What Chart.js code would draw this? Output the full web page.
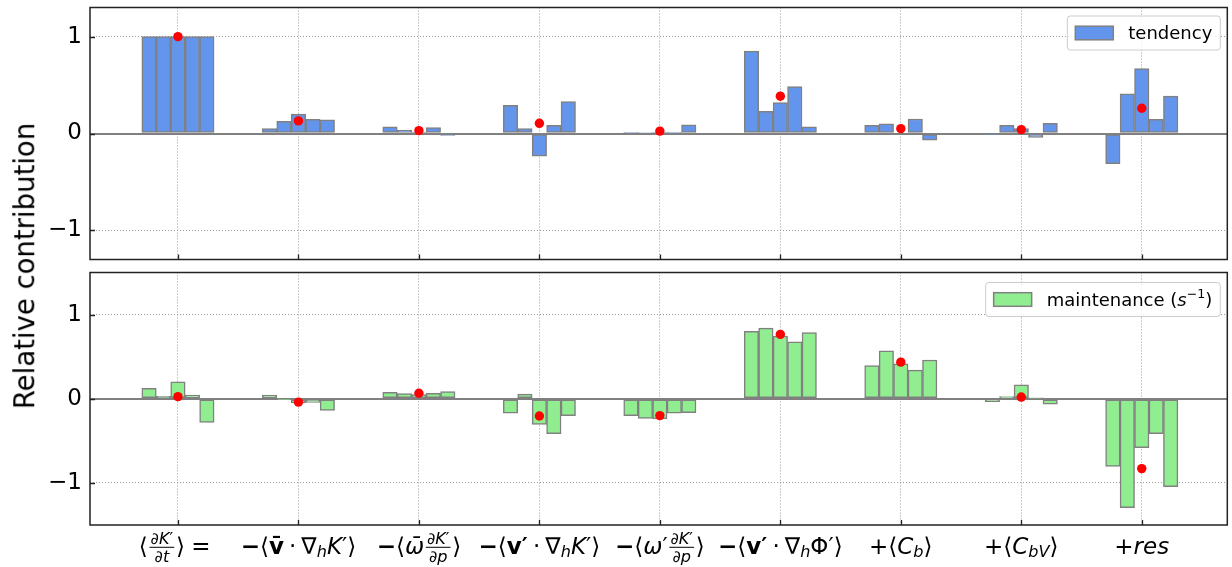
<!DOCTYPE html>
<html><head><meta charset="utf-8">
<script src="https://cdn.jsdelivr.net/npm/chart.js@4"></script>
<style>
html,body{margin:0;padding:0;background:#fff;}
#wrap{position:relative;width:1232px;height:567px;overflow:hidden;font-family:"DejaVu Sans";}
canvas{position:absolute;left:0;}
#cA{top:0}
#cB{top:266px}
#ylab{position:absolute;left:25px;top:266px;transform:translate(-50%,-50%) rotate(-90deg);white-space:nowrap;font-size:27.5px;font-family:"DejaVu Sans";color:#000;line-height:1;}
</style></head>
<body><div id="wrap"><canvas id="cA" width="1232" height="266"></canvas><canvas id="cB" width="1232" height="301"></canvas><div id="ylab">Relative contribution</div></div>
<script>
// ---------- data ----------
const categories = [
  '⟨\\frac{∂K′}{∂t}⟩ =',
  '−⟨\\bf{v\u0304}·∇_hK′⟩',
  '−⟨ω\u0304\\frac{∂K′}{∂p}⟩',
  '−⟨\\bf{v′}·∇_hK′⟩',
  '−⟨ω′\\frac{∂K′}{∂p}⟩',
  '−⟨\\bf{v′}·∇_hΦ′⟩',
  '+⟨C_b⟩',
  '+⟨C_{bV}⟩',
  '+res'
];
const yTicks = [-1, 0, 1];
const tendency = [
  [1.0, 1.0, 1.0, 1.0, 1.0],
  [0.05, 0.125, 0.2, 0.145, 0.14],
  [0.07, 0.035, 0.015, 0.06, -0.02],
  [0.29, 0.05, -0.235, 0.085, 0.33],
  [0.005, 0.01, 0.005, 0.015, 0.09],
  [0.85, 0.23, 0.32, 0.485, 0.07],
  [0.085, 0.1, 0.0, 0.15, -0.07],
  [-0.005, 0.085, 0.05, -0.04, 0.105],
  [-0.31, 0.41, 0.67, 0.145, 0.385]
];
const tendencyMean = [1.0, 0.13, 0.03, 0.105, 0.025, 0.385, 0.05, 0.04, 0.26];
const maintenance = [
  [0.125, 0.03, 0.2, 0.045, -0.28],
  [0.045, -0.005, -0.05, -0.045, -0.14],
  [0.075, 0.06, 0.05, 0.065, 0.085],
  [-0.17, 0.055, -0.305, -0.415, -0.2],
  [-0.2, -0.235, -0.24, -0.17, -0.165],
  [0.8, 0.84, 0.745, 0.675, 0.785],
  [0.395, 0.57, 0.415, 0.34, 0.46],
  [-0.035, 0.025, 0.165, 0.005, -0.065],
  [-0.805, -1.295, -0.58, -0.415, -1.045]
];
const maintenanceMean = [0.025, -0.04, 0.065, -0.205, -0.2, 0.765, 0.435, 0.02, -0.83];
const legendTop = 'tendency';
const legendBottom = ['maintenance (', 's^{−1}', ')'];

// ---------- mini math text renderer ----------
const FONT = '"DejaVu Sans"';
function tokenize(s) {
  const out = [];
  for (const ch of Array.from(s)) {
    if (/[\u0300-\u036f]/.test(ch) && out.length) out[out.length - 1] += ch;
    else out.push(ch);
  }
  return out;
}
function glyphBox(ctx, ch, size, bold, first) {
  const italic = !bold && /^[A-Za-z\u03b1-\u03c9]/.test(ch);
  const heavyMinus = ch === '−' && first && size > 20;
  const style = (bold || heavyMinus) ? 'bold' : (italic ? 'italic' : 'normal');
  const font = `${style} ${size}px ${FONT}`;
  ctx.font = font;
  const tw = ctx.measureText(ch).width;
  let pad = 0;
  if (!first && '·+−'.includes(ch)) pad = 0.22 * size;
  if (!first && ch === '=') pad = 0.28 * size;
  return { w: tw + 2 * pad, draw(c, x, b) { c.font = font; c.textAlign = 'left'; c.textBaseline = 'alphabetic'; c.fillText(ch, x + pad, b); } };
}
function fracBox(num, den, size) {
  const pad = 0.12 * size, inner = Math.max(num.w, den.w), w = inner + 2 * pad;
  return { w, draw(c, x, b) {
    const bar = b - 0.27 * size;
    c.fillRect(x + pad * 0.6, bar - 0.5, inner + pad * 0.8, 1);
    num.draw(c, x + (w - num.w) / 2, bar - 0.15 * size);
    den.draw(c, x + (w - den.w) / 2, bar + 0.65 * size);
  } };
}
function hbox(ctx, toks, size, bold) {
  const items = [];
  let i = 0;
  const readArg = () => {
    if (toks[i] === '{') {
      let depth = 1, j = i + 1;
      for (; j < toks.length; j++) { if (toks[j] === '{') depth++; else if (toks[j] === '}' && --depth === 0) break; }
      const sub = toks.slice(i + 1, j); i = j + 1; return sub;
    }
    return [toks[i++]];
  };
  while (i < toks.length) {
    const t = toks[i];
    if (t === '\\') {
      i++; let name = '';
      while (i < toks.length && /^[a-z]$/.test(toks[i])) name += toks[i++];
      if (name === 'frac') { const a = readArg(), b = readArg(); items.push(fracBox(hbox(ctx, a, size * 0.7, bold), hbox(ctx, b, size * 0.7, bold), size)); }
      else if (name === 'bf') { items.push(hbox(ctx, readArg(), size, true)); }
    } else if (t === '_' || t === '^') {
      i++; const sub = hbox(ctx, readArg(), size * 0.7, bold);
      const dy = t === '_' ? 0.16 * size : -0.42 * size;
      items.push({ w: sub.w, draw: (c, x, b) => sub.draw(c, x, b + dy) });
    } else if (t === ' ') { i++; }
    else { i++; items.push(glyphBox(ctx, t, size, bold, items.length === 0)); }
  }
  const w = items.reduce((s, it) => s + it.w, 0);
  return { w, draw(c, x, b) { let cx = x; for (const it of items) { it.draw(c, cx, b); cx += it.w; } } };
}
function buildMath(ctx, src, size) { return hbox(ctx, tokenize(src), size, false); }
function textBox(ctx, str, size) {
  const font = `normal ${size}px ${FONT}`; ctx.font = font;
  const w = ctx.measureText(str).width;
  return { w, draw(c, x, b) { c.font = font; c.textAlign = 'left'; c.textBaseline = 'alphabetic'; c.fillText(str, x, b); } };
}

// ---------- plugins ----------
const decor = {
  id: 'decor',
  afterDraw(chart, args, opts) {
    const ctx = chart.ctx, a = chart.chartArea, xs = chart.scales.x, ys = chart.scales.y;
    ctx.save();
    // inward ticks
    ctx.strokeStyle = '#222'; ctx.lineWidth = 1.3;
    ctx.beginPath();
    xs.ticks.forEach(t => { const p = Math.round(xs.getPixelForValue(t.value)) + 0.5; ctx.moveTo(p, a.bottom); ctx.lineTo(p, a.bottom - 5); });
    ys.ticks.forEach(t => { const p = Math.round(ys.getPixelForValue(t.value)) + 0.5; ctx.moveTo(a.left, p); ctx.lineTo(a.left + 5, p); });
    ctx.stroke();
    // frame
    ctx.strokeStyle = '#222'; ctx.lineWidth = 1.5;
    ctx.strokeRect(a.left, a.top, a.right - a.left, a.bottom - a.top);
    // legend
    const L = opts.legend;
    const size = 18;
    let label;
    if (Array.isArray(L.text)) {
      const parts = [textBox(ctx, L.text[0], size), buildMath(ctx, L.text[1], size), textBox(ctx, L.text[2], size)];
      label = { w: parts.reduce((s, p) => s + p.w, 0), draw(c, x, b) { let cx = x; parts.forEach(p => { p.draw(c, cx, b); cx += p.w; }); } };
    } else label = textBox(ctx, L.text, size);
    const fw = 8 + 38 + 15 + label.w + 8, fh = 34;
    const fx = a.right - 7 - fw, fy = a.top + L.dy;
    ctx.beginPath();
    ctx.roundRect(fx, fy, fw, fh, 3);
    ctx.fillStyle = 'rgba(255,255,255,0.85)'; ctx.fill();
    ctx.strokeStyle = '#cccccc'; ctx.lineWidth = 1; ctx.stroke();
    const cy = fy + fh / 2;
    ctx.fillStyle = L.color; ctx.fillRect(fx + 8, cy - 6.8, 38, 13.6);
    ctx.strokeStyle = '#808080'; ctx.lineWidth = 1.5; ctx.strokeRect(fx + 8, cy - 6.8, 38, 13.6);
    ctx.fillStyle = '#000';
    label.draw(ctx, fx + 8 + 38 + 15, cy + 6.4);
    // category labels
    if (opts.labels) {
      ctx.fillStyle = '#000';
      categories.forEach((lab, i) => {
        const box = buildMath(ctx, lab, 23);
        const cx = xs.getPixelForValue(i);
        box.draw(ctx, cx - box.w / 2, a.bottom + 28.5);
      });
    }
    ctx.restore();
  }
};

function barPoints(groups) {
  const pts = [];
  groups.forEach((g, i) => g.forEach((v, j) => pts.push({ x: i + (j - 2) * 0.12, y: v })));
  return pts;
}

function makeChart(id, groups, means, fill, yLim, padTop, xH, legend, labels) {
  return new Chart(document.getElementById(id), {
    type: 'bar',
    data: { datasets: [
      { type: 'scatter', data: means.map((v, i) => ({ x: i, y: v })), backgroundColor: '#ff0000', borderColor: '#ff0000', borderWidth: 0, pointRadius: 4.7, order: 0 },
      { type: 'bar', data: barPoints(groups), backgroundColor: fill, borderColor: '#808080', borderWidth: 1.5, borderSkipped: false, barPercentage: 1, categoryPercentage: 1, order: 1 }
    ] },
    options: {
      responsive: false, animation: false, events: [],
      layout: { padding: { left: 0, right: 2, top: padTop, bottom: 0 } },
      plugins: { legend: { display: false }, tooltip: { enabled: false }, decor: { legend, labels } },
      scales: {
        x: {
          type: 'linear', min: -0.73, max: 8.71, offset: false,
          afterBuildTicks: s => { s.ticks = categories.map((_, i) => ({ value: i })); },
          ticks: { display: false },
          grid: { color: '#9a9a9a', lineWidth: 1, drawTicks: false, offset: false },
          border: { display: false, dash: [1, 2] },
          afterFit: s => { s.height = xH; s.paddingLeft = 0; s.paddingRight = 0; s.paddingTop = 0; s.paddingBottom = 0; }
        },
        y: {
          min: -yLim, max: yLim,
          afterBuildTicks: s => { s.ticks = yTicks.map(v => ({ value: v })); },
          ticks: { font: { family: 'DejaVu Sans', size: 23 }, color: '#000', padding: 8,
                   callback: v => v < 0 ? '\u2212' + Math.abs(v) : String(v) },
          grid: { drawTicks: false,
                  color: c => (c.tick && c.tick.value === 0) ? '#808080' : '#9a9a9a',
                  lineWidth: c => (c.tick && c.tick.value === 0) ? 2 : 1 },
          border: { display: false, dash: c => (c.tick && c.tick.value === 0) ? [] : [1, 2] },
          afterFit: s => { s.width = 90; s.paddingTop = 0; s.paddingBottom = 0; s.paddingLeft = 0; s.paddingRight = 0; }
        }
      }
    },
    plugins: [decor]
  });
}

makeChart('cA', tendency, tendencyMean, '#6495ED', 1.3, 7.5, 6.5, { text: legendTop, color: '#6495ED', dy: 8.5 }, false);
makeChart('cB', maintenance, maintenanceMean, '#90EE90', 1.5, 6.5, 42, { text: legendBottom, color: '#90EE90', dy: 10 }, true);
</script>
</body></html>
